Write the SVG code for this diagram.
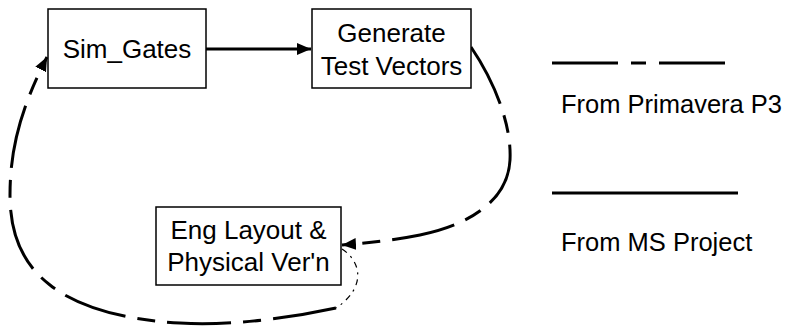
<svg xmlns="http://www.w3.org/2000/svg" width="788" height="328" viewBox="0 0 788 328">
  <style>
    .box { fill: #ffffff; stroke: #000000; stroke-width: 1.5; }
    .lbl { font-family: "Liberation Sans", Arial, sans-serif; font-size: 26px; fill: #000000; text-anchor: middle; }
    .leg { font-family: "Liberation Sans", Arial, sans-serif; font-size: 25.5px; fill: #000000; }
    .solid { fill: none; stroke: #000000; stroke-width: 3; }
    .p3 { fill: none; stroke: #000000; stroke-width: 3; stroke-dasharray: 64 12 18 12; }
    .thin { fill: none; stroke: #000000; stroke-width: 1.2; stroke-dasharray: 6 5 2 5; }
  </style>
  <defs>
    <marker id="arrow" markerUnits="userSpaceOnUse" markerWidth="16" markerHeight="14" refX="14" refY="6" orient="auto">
      <path d="M0,0 L14,6 L0,12 Z" fill="#000000"/>
    </marker>
  </defs>

  <g id="connectors">
    <line class="solid" x1="206" y1="49" x2="311" y2="49" marker-end="url(#arrow)"/>
    <path class="p3" d="M 471,47 C 490,75 512,120 510,160 C 508,200 470,225 420,235 C 395,240 370,243 342,245" marker-end="url(#arrow)"/>
    <path class="thin" d="M 342,249 C 362,262 366,288 336,308"/>
    <path class="p3" d="M 336,308 C 290,318 230,326 180,323 C 120,320 75,305 50,285 C 20,262 10,230 10,195 C 10,150 20,110 47,57" marker-end="url(#arrow)"/>
  </g>

  <g id="sim-gates">
    <rect class="box" x="48" y="9" width="158" height="79"/>
    <text class="lbl" x="127" y="58">Sim_Gates</text>
  </g>

  <g id="generate-test-vectors">
    <rect class="box" x="312" y="9" width="159" height="79"/>
    <text class="lbl" x="391.5" y="41.5">Generate</text>
    <text class="lbl" x="391.5" y="74.5">Test Vectors</text>
  </g>

  <g id="eng-layout">
    <rect class="box" x="156" y="207" width="185" height="78"/>
    <text class="lbl" x="248.5" y="238.5">Eng Layout &amp;</text>
    <text class="lbl" x="248.5" y="271">Physical Ver'n</text>
  </g>

  <g id="legend">
    <line x1="552" y1="63" x2="725" y2="63" stroke="#000000" stroke-width="3" stroke-dasharray="66 13 15 13"/>
    <text class="leg" x="561" y="113">From Primavera P3</text>
    <line x1="552" y1="193" x2="738" y2="193" stroke="#000000" stroke-width="3"/>
    <text class="leg" x="561" y="251">From MS Project</text>
  </g>
</svg>
